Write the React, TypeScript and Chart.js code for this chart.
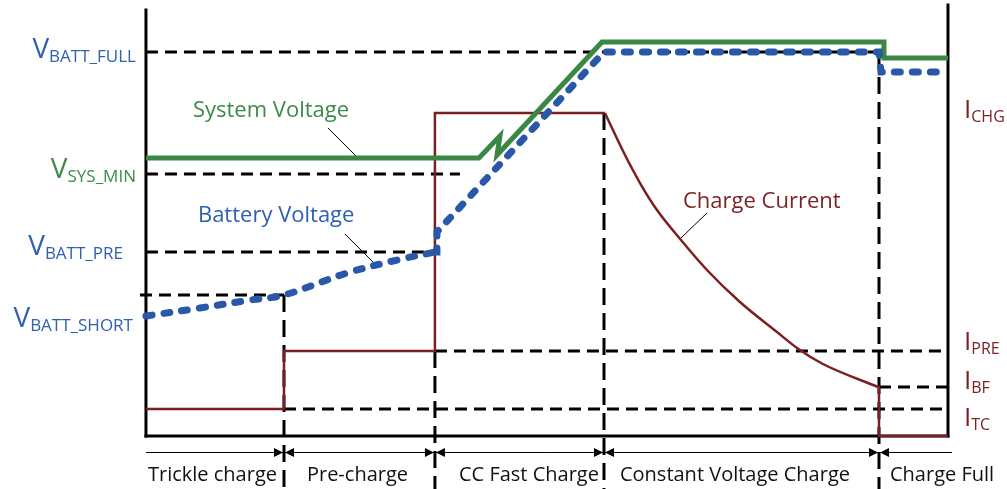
import React, { useEffect, useRef } from 'react';
import { Chart, registerables } from 'chart.js';

Chart.register(...registerables);

// ---- Coordinate system: x = time units (0 = start, 100 = end), y = level units (0 = baseline)
const X_MIN = -18.2;
const X_MAX = 107.36;
const Y_MIN = -12.44;
const Y_MAX = 102.35;

// Phase boundaries and labels
const phaseBounds = [0, 17.21, 36.03, 57.11, 91.4, 100.5];
const phaseLabels = ['Trickle charge', 'Pre-charge', 'CC Fast Charge', 'Constant Voltage Charge', 'Charge Full'];
const phaseLabelX = [0.25, 20.07, 39.03, 59.1, 92.77];

// Levels
const V_BATT_FULL = 90.14;
const V_SYS_MIN = 61.5;
const V_BATT_PRE = 43.19;
const V_BATT_SHORT = 33.1;
const I_CHG = 75.82;
const I_PRE = 19.95;
const I_BF = 11.5;
const I_TC = 6.34;

// System voltage (green)
const sysX = [0, 41.52, 44.14, 43.77, 56.86, 92.02, 92.02, 100];
const sysY = [65.26, 65.26, 70.42, 65.96, 92.49, 92.49, 88.73, 88.73];

// Battery voltage (blue dotted)
const battCurveX = [0, 6.73, 12.97, 17.21, 25.06, 31.3, 36.03];
const battCurveY = [28.17, 30.05, 31.92, 33.1, 38.26, 41.31, 43.19];
const battRestX = [36.03, 36.28, 36.28, 57.11, 91.4, 91.65, 100];
const battRestY = [43.19, 43.19, 47.89, 90.14, 90.14, 85.45, 85.45];

// Charge current (dark red)
const currStepX = [0, 17.21, 17.21, 36.03, 36.03, 57.23];
const currStepY = [6.34, 6.34, 19.95, 19.95, 75.82, 75.82];
const currDecayX = [57.23, 59.48, 61.6, 63.72, 66.71, 69.95, 74.06, 78.68, 81.17, 84.41, 91.27];
const currDecayY = [75.82, 66.9, 59.39, 53.05, 46.01, 38.97, 31.46, 24.41, 20.66, 16.9, 11.5];
const currEndX = [91.27, 91.4, 91.4, 100];
const currEndY = [11.5, 11.5, 0, 0];

// Dashed guide lines: [x1, y1, x2, y2]
const hGuides: number[][] = [
  [0, V_BATT_FULL, 91.4, V_BATT_FULL],
  [0, V_SYS_MIN, 39.15, V_SYS_MIN],
  [0, V_BATT_PRE, 36.03, V_BATT_PRE],
  [-0.75, V_BATT_SHORT, 17.21, V_BATT_SHORT],
  [36.03, I_PRE, 100, I_PRE],
  [91.4, I_BF, 100, I_BF],
  [17.21, I_TC, 100, I_TC],
];
const vGuides: number[][] = [
  [17.21, V_BATT_SHORT, 17.21, Y_MIN],
  [36.03, I_PRE, 36.03, Y_MIN],
  [57.11, I_CHG, 57.11, Y_MIN],
  [91.4, V_BATT_FULL, 91.4, Y_MIN],
];
// Axes frame
const axisLines: number[][] = [
  [0, 100, 0, 0],
  [0, 0, 100, 0],
  [100, 101.2, 100, 0],
];
// Leader lines
const leaders: number[][] = [
  [22.69, 72.3, 26.31, 65.49],
  [24.81, 47.42, 28.43, 40.61],
  [69.95, 52.35, 66.71, 46.48],
];

const BLUE = '#2A58A8';
const GREEN = '#3A8844';
const RED = '#7B1F22';
const BLUE_T = '#3060AE';
const GREEN_T = '#3D8B48';
const RED_T = '#7D2326';
const FONT = '"Open Sans", "Noto Sans", sans-serif';

const pts = (xs: number[], ys: number[]) => xs.map((x, i) => ({ x, y: ys[i] }));
const seg = (s: number[]) => [{ x: s[0], y: s[1] }, { x: s[2], y: s[3] }];

function drawSub(
  ctx: CanvasRenderingContext2D,
  main: string,
  sub: string,
  x: number,
  y: number,
  align: 'left' | 'right',
  color: string,
  mainSize: number,
  subSize: number
) {
  ctx.fillStyle = color;
  ctx.textAlign = 'left';
  ctx.textBaseline = 'alphabetic';
  ctx.font = `${mainSize}px ${FONT}`;
  const wm = ctx.measureText(main).width;
  ctx.font = `${subSize}px ${FONT}`;
  const ws = ctx.measureText(sub).width;
  const x0 = align === 'left' ? x : x - wm - ws;
  ctx.font = `${mainSize}px ${FONT}`;
  ctx.fillText(main, x0, y);
  ctx.font = `${subSize}px ${FONT}`;
  ctx.fillText(sub, x0 + wm, y + 4);
}

const overlay = {
  id: 'overlay',
  afterDatasetsDraw(chart: any) {
    const { ctx } = chart;
    const xs = chart.scales.x;
    const ys = chart.scales.y;
    const px = (v: number) => xs.getPixelForValue(v);
    const py = (v: number) => ys.getPixelForValue(v);
    ctx.save();

    // Phase arrows
    const ay = Math.round(py(-3.76)) + 0.5;
    ctx.strokeStyle = '#000';
    ctx.fillStyle = '#000';
    ctx.lineWidth = 1;
    ctx.beginPath();
    ctx.moveTo(px(phaseBounds[0]), ay);
    ctx.lineTo(px(phaseBounds[phaseBounds.length - 1]), ay);
    ctx.stroke();
    for (let i = 1; i < phaseBounds.length - 1; i++) {
      const t = px(phaseBounds[i]);
      ctx.beginPath();
      ctx.moveTo(t - 1, ay);
      ctx.lineTo(t - 10, ay - 4.5);
      ctx.lineTo(t - 10, ay + 4.5);
      ctx.closePath();
      ctx.fill();
      ctx.beginPath();
      ctx.moveTo(t + 1, ay);
      ctx.lineTo(t + 10, ay - 4.5);
      ctx.lineTo(t + 10, ay + 4.5);
      ctx.closePath();
      ctx.fill();
    }

    // Phase labels
    ctx.fillStyle = '#111';
    ctx.font = `20px ${FONT}`;
    ctx.textAlign = 'left';
    ctx.textBaseline = 'alphabetic';
    phaseLabels.forEach((l, i) => ctx.fillText(l, px(phaseLabelX[i]), py(-10.56)));

    // Curve annotations
    ctx.font = `22px ${FONT}`;
    ctx.fillStyle = GREEN_T;
    ctx.fillText('System Voltage', px(5.86), py(74.88));
    ctx.fillStyle = BLUE_T;
    ctx.fillText('Battery Voltage', px(6.48), py(50.23));
    ctx.fillStyle = RED_T;
    ctx.fillText('Charge Current', px(66.96), py(53.52));

    // Left level labels
    drawSub(ctx, 'V', 'BATT_FULL', px(-1.25), py(88.73), 'right', BLUE_T, 28, 17);
    drawSub(ctx, 'V', 'SYS_MIN', px(-1.25), py(60.56), 'right', GREEN_T, 28, 17);
    drawSub(ctx, 'V', 'BATT_PRE', px(-2.87), py(42.49), 'right', BLUE_T, 28, 17);
    drawSub(ctx, 'V', 'BATT_SHORT', px(-1.62), py(25.59), 'right', BLUE_T, 28, 17);

    // Right level labels
    drawSub(ctx, 'I', 'CHG', px(102.0), py(74.65), 'left', RED_T, 26, 16);
    drawSub(ctx, 'I', 'PRE', px(102.0), py(20.19), 'left', RED_T, 26, 16);
    drawSub(ctx, 'I', 'BF', px(102.0), py(11.03), 'left', RED_T, 26, 16);
    drawSub(ctx, 'I', 'TC', px(102.0), py(2.35), 'left', RED_T, 26, 16);

    ctx.restore();
  },
};

export default function App() {
  const ref = useRef<HTMLCanvasElement>(null);

  useEffect(() => {
    const base = { showLine: true, pointRadius: 0, fill: false, clip: false as any };
    const dots = { borderColor: BLUE, borderWidth: 7, borderDash: [6, 12], borderCapStyle: 'round', order: 1 };
    const datasets: any[] = [
      { ...base, ...dots, data: pts(battCurveX, battCurveY), tension: 0.35 },
      { ...base, ...dots, data: pts(battRestX, battRestY), tension: 0 },
      { ...base, data: pts(sysX, sysY), borderColor: GREEN, borderWidth: 5, tension: 0, order: 2 },
      { ...base, data: pts(currStepX, currStepY), borderColor: RED, borderWidth: 2.5, tension: 0, order: 3 },
      { ...base, data: pts(currDecayX, currDecayY), borderColor: RED, borderWidth: 2.5, tension: 0.4, cubicInterpolationMode: 'monotone', order: 3 },
      { ...base, data: pts(currEndX, currEndY), borderColor: RED, borderWidth: 2.5, tension: 0, order: 3 },
      ...hGuides.map((s) => ({ ...base, data: seg(s), borderColor: '#000', borderWidth: 3, borderDash: [12, 7], order: 5 })),
      ...vGuides.map((s) => ({ ...base, data: seg(s), borderColor: '#000', borderWidth: 3, borderDash: [17, 8], order: 4 })),
      ...axisLines.map((s) => ({ ...base, data: seg(s), borderColor: '#000', borderWidth: 3, order: 6, borderCapStyle: 'square' })),
      ...leaders.map((s) => ({ ...base, data: seg(s), borderColor: '#000', borderWidth: 1, order: 6 })),
    ];

    const chart = new Chart(ref.current as HTMLCanvasElement, {
      type: 'scatter',
      data: { datasets },
      options: {
        animation: false,
        responsive: false,
        devicePixelRatio: 1,
        layout: { padding: 0 },
        events: [],
        scales: {
          x: { type: 'linear', min: X_MIN, max: X_MAX, display: false },
          y: { type: 'linear', min: Y_MIN, max: Y_MAX, display: false },
        },
        plugins: { legend: { display: false }, tooltip: { enabled: false } },
      },
      plugins: [overlay],
    });
    return () => chart.destroy();
  }, []);

  return (
    <div style={{ position: 'absolute', left: 0, top: 0, width: 1007, height: 489, background: '#fff' }}>
      <canvas ref={ref} width={1007} height={489} style={{ display: 'block', width: 1007, height: 489 }} />
    </div>
  );
}
